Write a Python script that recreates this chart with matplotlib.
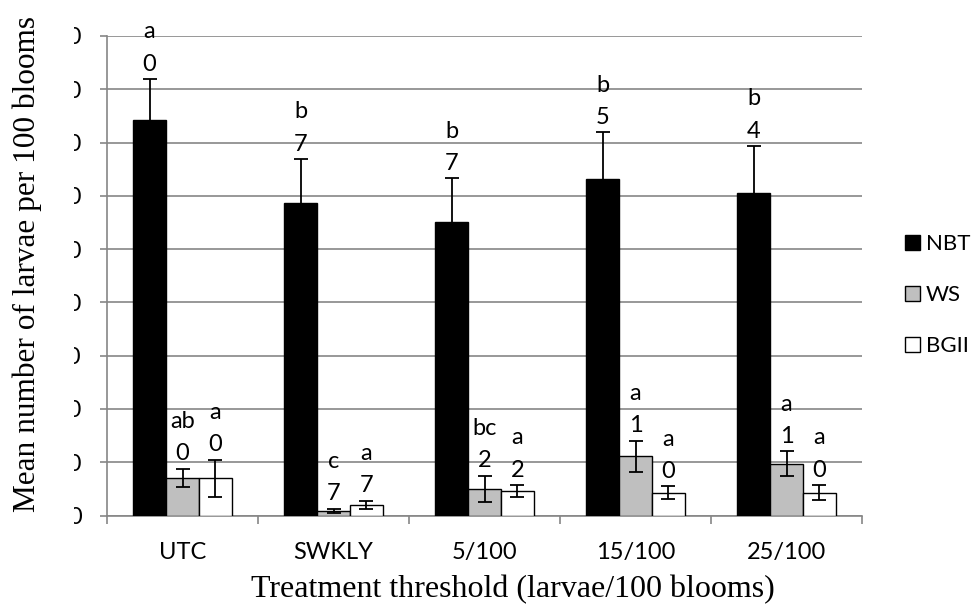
import matplotlib.pyplot as plt
import numpy as np
from matplotlib.transforms import Bbox
from matplotlib.patches import Patch

categories = ['UTC', 'SWKLY', '5/100', '15/100', '25/100']
nbt = [74.2, 58.6, 55.0, 63.2, 60.6]
nbt_err = [7.7, 8.3, 8.3, 8.7, 8.8]
ws = [7.1, 0.9, 5.0, 11.1, 9.7]
ws_err = [1.7, 0.4, 2.5, 2.95, 2.35]
bgii = [7.0, 2.0, 4.6, 4.3, 4.3]
bgii_err = [3.5, 0.8, 1.15, 1.15, 1.4]

nbt_letters = ['a', 'b', 'b', 'b', 'b']
nbt_digits = ['0', '7', '7', '5', '4']
ws_letters = ['ab', 'c', 'bc', 'a', 'a']
ws_digits = ['0', '7', '2', '1', '1']
bgii_letters = ['a', 'a', 'a', 'a', 'a']
bgii_digits = ['0', '7', '2', '0', '0']

yticks = list(range(0, 100, 10))

grid_col = '#868686'
lab_font = 'Lato'
title_font = 'Liberation Serif'
fs = 17

fig = plt.figure(figsize=(9.74, 6.10), dpi=100)
ax = fig.add_axes([107/974, 94.5/610, 755/974, 479.5/610])

x = np.arange(len(categories))
w = 0.2185
series = [
    (nbt, nbt_err, 'black', nbt_letters, nbt_digits, 'NBT'),
    (ws, ws_err, '#bfbfbf', ws_letters, ws_digits, 'WS'),
    (bgii, bgii_err, 'white', bgii_letters, bgii_digits, 'BGII'),
]

for i, (vals, errs, col, lets, digs, name) in enumerate(series):
    xs = x + (i - 1) * w
    ax.bar(xs, vals, w, color=col, edgecolor='black', linewidth=1, zorder=3)
    ax.errorbar(xs, vals, yerr=errs, fmt='none', ecolor='black',
                elinewidth=1.3, capsize=5, capthick=1.3, zorder=4)
    for xi, v, e, l, d in zip(xs, vals, errs, lets, digs):
        ax.annotate(l + '\n' + d, (xi, v + e), xytext=(0, 3),
                    textcoords='offset points', ha='center', va='bottom',
                    fontsize=fs, family=lab_font, linespacing=1.68,
                    zorder=5, annotation_clip=False)

ax.set_xlim(-0.5, len(categories) - 0.5)
ax.set_ylim(0, 90)
ax.set_yticks(yticks)
ax.set_yticklabels([str(v) for v in yticks], family=lab_font, fontsize=fs)
ax.yaxis.grid(True, color=grid_col, linewidth=1.2, zorder=0)
ax.set_axisbelow(True)

ax.set_xticks(x)
ax.set_xticklabels(categories, family=lab_font, fontsize=fs)
ax.tick_params(axis='x', which='major', length=0, pad=19)
ax.set_xticks(np.arange(len(categories) + 1) - 0.5, minor=True)
ax.tick_params(axis='x', which='minor', length=6, width=1.2, color=grid_col,
               direction='out')
ax.tick_params(axis='y', length=5, width=1.2, color=grid_col, pad=13)

for s in ['top', 'right']:
    ax.spines[s].set_visible(False)
for s in ['left', 'bottom']:
    ax.spines[s].set_color(grid_col)
    ax.spines[s].set_linewidth(1.2)

ax.set_xlabel('Treatment threshold (larvae/100 blooms)', family=title_font,
              fontsize=23)
ax.xaxis.set_label_coords(0.537, -0.124)
ax.set_ylabel('Mean number of larvae per 100 blooms', family=title_font,
              fontsize=22.5)
ax.yaxis.set_label_coords(-0.086, 0.524)

# the left part of the y tick labels is cut off in the original
clip = Bbox.from_extents(74, 0, 974, 610)
for t in ax.get_yticklabels():
    t.set_clip_on(True)
    t.set_clip_box(clip)

handles = [Patch(facecolor=c, edgecolor='black', linewidth=1) for _, _, c, _, _, _ in series]
names = [s[5] for s in series]
fig.legend(handles, names, loc='center left', bbox_to_anchor=(0.929, 0.516),
           frameon=False, prop={'family': lab_font, 'size': 16},
           handlelength=0.7, handleheight=0.7, handletextpad=0.25,
           labelspacing=1.4, borderpad=0, borderaxespad=0)

fig.savefig('out.png', dpi=100)
